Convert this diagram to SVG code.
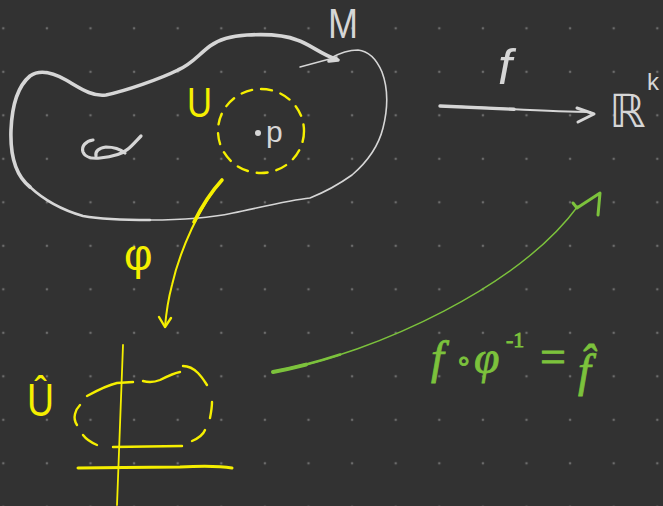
<svg xmlns="http://www.w3.org/2000/svg" width="663" height="506" viewBox="0 0 663 506">
<style>
.w{fill:none;stroke:#d6d6d6;stroke-linecap:round;stroke-linejoin:round}
.y{fill:none;stroke:#f5ef00;stroke-linecap:round;stroke-linejoin:round}
.g{fill:none;stroke:#7cc23c;stroke-linecap:round;stroke-linejoin:round}
.tw{fill:#d6d6d6;font-family:"Liberation Sans","DejaVu Sans",sans-serif}
.ty{fill:#f5ef00;font-family:"Liberation Sans","DejaVu Sans",sans-serif}
.tg{fill:#7cc23c;stroke:#7cc23c;stroke-width:0.8;font-family:"Liberation Serif","DejaVu Serif",serif}
</style>
<defs>
<pattern id="dots" patternUnits="userSpaceOnUse" x="-18.5" y="6.55" width="43.6" height="43.5">
<circle cx="21.8" cy="21.75" r="1.3" fill="#6c6c6c"/>
</pattern>
</defs>
<rect width="663" height="506" fill="#323232"/>
<rect width="663" height="506" fill="url(#dots)"/>

<g id="manifold-M">
<path class="w" stroke-width="3.6" d="M 336,59 C 322,55 310,44 297,40 C 285,35 265,34 247,35 C 230,36 218,40 210,46 C 198,55 192,64 178,70 C 160,79 125,91 106,95 C 92,97 80,88 66,80 C 52,72 40,69 30,76 C 18,86 12,105 11,130 C 10,158 16,176 30,187"/>
<path class="w" stroke-width="3.6" d="M 336,59 L 338,60 L 329,61"/>
<path class="w" stroke-width="2.6" d="M 30,187 C 44,200 62,210 83,216 C 100,219 130,220 150,220"/>
<path class="w" stroke-width="1.6" d="M 150,220 C 175,220 205,219 233,213 C 262,207 290,200 310,198 M 310,198 C 330,190 345,180 352,175 C 366,163 378,148 383,128 C 388,108 388,88 382,72 C 376,58 368,51 358,50 C 348,50 338,54 331,58"/>
<path class="w" stroke-width="1.4" d="M 300,67 L 337,57"/>
<path class="w" stroke-width="3.2" d="M 93,140 C 86,141 81,146 83,152 C 85,157 92,159 100,158 C 111,157 121,155 128,149 C 133,145 137,140 141,136 M 96,156 C 95,151 99,148 106,147 C 114,147 120,149 125,153"/>
<text class="tw" x="328" y="38" font-size="42" textLength="30" lengthAdjust="spacingAndGlyphs">M</text>
</g>

<g id="region-U">
<ellipse class="y" cx="261" cy="131" rx="43" ry="42" stroke-width="2.4" stroke-dasharray="11 9"/>
<text class="ty" x="187" y="117" font-size="42" textLength="25" lengthAdjust="spacingAndGlyphs">U</text>
<circle cx="258" cy="133" r="3" fill="#d6d6d6"/>
<text class="tw" x="266" y="142" font-size="30">p</text>
</g>

<g id="target-Rk">
<text class="tw" x="609" y="127" font-size="46" font-family="DejaVu Sans,sans-serif">ℝ</text>
<text class="tw" x="647" y="90" font-size="24">k</text>
</g>

<g id="chart-Uhat">
<path class="y" stroke-width="1.8" d="M 123,345 L 117,505"/>
<path class="y" stroke-width="3" d="M 78,468 C 110,468 150,467 180,467 C 200,466 220,466 232,468"/>
<path class="y" stroke-width="2.4" d="M 87,396 C 98,390 108,385 117,383 L 133,382 M 143,381 C 150,383 155,382 160,380 C 168,376 174,373 180,372 M 183,366 C 188,366 193,368 198,373 C 202,377 205,382 207,385 M 212,402 C 212,408 211,413 210,418 M 205,430 C 203,435 199,438 192,441 M 182,446 L 113,447 M 97,445 C 90,442 86,439 83,435 M 77,425 C 75,422 74,418 75,414 C 76,410 78,407 80,405"/>
<text class="ty" x="27" y="416" font-size="46" textLength="27" lengthAdjust="spacingAndGlyphs">Û</text>
</g>

<g id="connectors">
<path class="w" stroke-width="2" d="M 440,106 C 500,108 550,112 590,112"/>
<path class="w" stroke-width="3.4" d="M 440,106 C 460,106.7 485,107.8 514,109.3"/>
<path class="w" stroke-width="3" d="M 577,108 L 594,114 L 578,122"/>
<text class="tw" x="498" y="84" font-size="50" font-family="Liberation Serif,serif" font-style="italic">f</text>

<path class="y" stroke-width="2" d="M 222,180 C 200,205 180,250 172,285 C 168,300 166,315 165,327"/>
<path class="y" stroke-width="3.6" d="M 222,180 C 212,191 202,206 194,222"/>
<path class="y" stroke-width="2.4" d="M 159,317 L 165,327 L 171,318"/>
<text class="ty" x="124" y="270" font-size="44">φ</text>

<path class="g" stroke-width="1.4" d="M 273,372 C 380,352 520,285 578,206"/>
<path class="g" stroke-width="2.6" d="M 273,372 C 294.4,368 317.1,362.1 340.2,354.6"/>
<path class="g" stroke-width="4" d="M 273,372 C 283.7,370 294.7,367.5 306,364.6"/>
<path class="g" stroke-width="3" d="M 573,203 L 577,208 L 600,193 L 598,215"/>
<text class="tg" font-size="46" font-style="italic"><tspan x="431" y="373">f</tspan><tspan x="455" y="370" font-size="28" font-style="normal" font-family="DejaVu Sans,sans-serif">∘</tspan><tspan x="474" y="373">φ</tspan><tspan x="506" y="347" font-size="22" font-style="normal">-1</tspan><tspan x="540" y="372" font-style="normal">=</tspan><tspan x="578" y="386">f̂</tspan></text>
</g>
</svg>
